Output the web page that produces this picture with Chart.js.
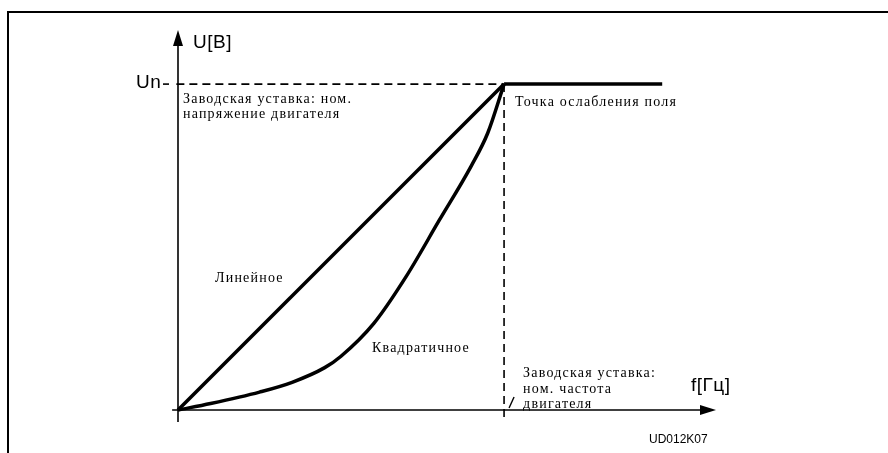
<!DOCTYPE html>
<html><head><meta charset="utf-8">
<script src="https://cdn.jsdelivr.net/npm/chart.js@4.4.1/dist/chart.umd.min.js"></script>
<style>html,body{margin:0;padding:0;background:#fff}#wrap{width:888px;height:453px;position:relative}</style>
</head><body><div id="wrap"><canvas id="c" width="888" height="453"></canvas></div>
<script>
// Normalised frequency f/fn and voltage U/Un
const linearF = [0, 1];
const linearU = [0, 1];
const quadF = [0, 0.10, 0.25, 0.35, 0.45, 0.50, 0.60, 0.70, 0.80, 0.90, 0.95, 1.0];
const quadU = [0, 0.02, 0.055, 0.085, 0.13, 0.165, 0.265, 0.41, 0.58, 0.75, 0.85, 1.0];
const flatF = [1, 1.485];
const flatU = [1, 1];
const unLineF = [-0.005, 1];
const unLineU = [1, 1];
const fnLineF = [1, 1];
const fnLineU = [1, -0.037];
const xMax = 1.65, yMax = 1.166;

const labels = {
  yAxis: 'U[B]', xAxis: 'f[Гц]', un: 'Un',
  ptLabel: 'Точка ослабления поля',
  unNote: ['Заводская уставка: ном.', 'напряжение двигателя'],
  fnNote: ['Заводская уставка:', 'ном. частота', 'двигателя'],
  lin: 'Линейное', quad: 'Квадратичное', code: 'UD012K07'
};

function pts(xs, ys){ return xs.map((x,i)=>({x:x, y:ys[i]})); }

const deco = {
  id:'deco',
  beforeDraw(chart){
    const ctx = chart.ctx;
    ctx.save();
    ctx.fillStyle='#fff'; ctx.fillRect(0,0,chart.width,chart.height);
    ctx.strokeStyle='#000'; ctx.lineWidth=2;
    ctx.beginPath(); ctx.moveTo(8,453); ctx.lineTo(8,12); ctx.lineTo(888,12); ctx.stroke();
    ctx.restore();
  },
  afterDatasetsDraw(chart){
    const ctx = chart.ctx, xs = chart.scales.x, ys = chart.scales.y;
    const X = v=>xs.getPixelForValue(v), Y = v=>ys.getPixelForValue(v);
    ctx.save();
    ctx.strokeStyle='#000'; ctx.fillStyle='#000'; ctx.lineWidth=1.6;
    // y axis
    ctx.beginPath(); ctx.moveTo(X(0), Y(-0.037)); ctx.lineTo(X(0), Y(yMax)+14); ctx.stroke();
    ctx.beginPath(); ctx.moveTo(X(0), Y(yMax)); ctx.lineTo(X(0)-5, Y(yMax)+16); ctx.lineTo(X(0)+5, Y(yMax)+16); ctx.closePath(); ctx.fill();
    // x axis
    ctx.beginPath(); ctx.moveTo(X(-0.018), Y(0)); ctx.lineTo(X(xMax)-14, Y(0)); ctx.stroke();
    ctx.beginPath(); ctx.moveTo(X(xMax), Y(0)); ctx.lineTo(X(xMax)-16, Y(0)-5); ctx.lineTo(X(xMax)-16, Y(0)+5); ctx.closePath(); ctx.fill();
    // Un tick dash
    ctx.beginPath(); ctx.moveTo(X(0)-15, Y(1)); ctx.lineTo(X(0)-9, Y(1)); ctx.stroke();
    // slash near fn
    ctx.lineWidth=1.4;
    ctx.beginPath(); ctx.moveTo(X(1)+5, Y(0)-2); ctx.lineTo(X(1)+10, Y(0)-13); ctx.stroke();
    // sans labels
    ctx.textBaseline='middle';
    ctx.font='19px "Liberation Sans", Arial, sans-serif';
    ctx.textAlign='left';
    ctx.letterSpacing='0.5px';
    ctx.fillText(labels.yAxis, X(0)+15, Y(yMax)+13);
    ctx.fillText(labels.xAxis, X(xMax)-25, Y(0)-24);
    ctx.fillText(labels.un, X(0)-42, Y(1)-1);
    ctx.letterSpacing='0px';
    ctx.font='12px "Liberation Sans", Arial, sans-serif';
    ctx.fillText(labels.code, X(xMax)-67, Y(0)+30);
    // serif labels
    ctx.font='14px "Liberation Serif", "Times New Roman", serif';
    ctx.letterSpacing='1.2px';
    ctx.fillText(labels.unNote[0], X(0)+5, Y(1)+15);
    ctx.fillText(labels.unNote[1], X(0)+5, Y(1)+30);
    ctx.fillText(labels.ptLabel, X(1)+11, Y(1)+18);
    ctx.fillText(labels.lin, X(0)+37, Y(0)-132);
    ctx.fillText(labels.quad, X(0)+194, Y(0)-62);
    ctx.fillText(labels.fnNote[0], X(1)+19, Y(0)-37);
    ctx.fillText(labels.fnNote[1], X(1)+19, Y(0)-21);
    ctx.fillText(labels.fnNote[2], X(1)+19, Y(0)-6);
    ctx.restore();
  }
};

new Chart(document.getElementById('c'), {
  type:'scatter',
  data:{ datasets:[
    {data:pts(unLineF, unLineU), borderColor:'#000', borderWidth:1.6, borderDash:[8,5], showLine:true, pointRadius:0, clip:false},
    {data:pts(fnLineF, fnLineU), borderColor:'#000', borderWidth:1.6, borderDash:[8,5], showLine:true, pointRadius:0, clip:false},
    {data:pts(linearF, linearU), borderColor:'#000', borderWidth:3.5, showLine:true, pointRadius:0, clip:false},
    {data:pts(quadF, quadU), borderColor:'#000', borderWidth:3.5, showLine:true, pointRadius:0, cubicInterpolationMode:'monotone', clip:false},
    {data:pts(flatF, flatU), borderColor:'#000', borderWidth:3.5, showLine:true, pointRadius:0, clip:false}
  ]},
  options:{
    responsive:false, animation:false, devicePixelRatio:1,
    layout:{padding:{left:178, right:172, top:30, bottom:43}},
    plugins:{legend:{display:false}, tooltip:{enabled:false}},
    scales:{
      x:{type:'linear', min:0, max:xMax, display:false},
      y:{type:'linear', min:0, max:yMax, display:false}
    }
  },
  plugins:[deco]
});
</script></body></html>
